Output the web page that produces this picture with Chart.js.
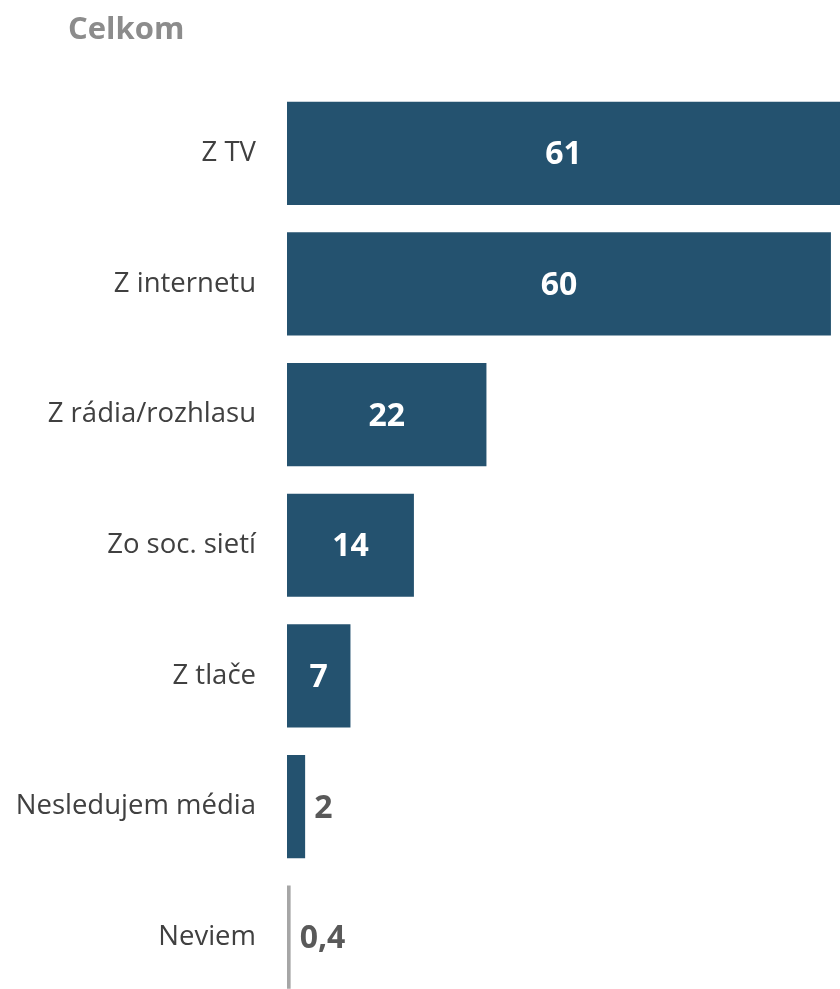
<!DOCTYPE html>
<html>
<head>
<meta charset="utf-8">
<script src="https://cdn.jsdelivr.net/npm/chart.js@4"></script>
<style>
  html, body { margin: 0; padding: 0; background: #fff; overflow: hidden; }
  #wrap { position: relative; width: 840px; height: 1050px; }
  #title {
    position: absolute; left: 68px; top: 6px; z-index: 1;
    font: bold 31px "Open Sans", sans-serif; color: #8c8c8c;
  }
</style>
</head>
<body>
<div id="wrap">
  <div id="title">Celkom</div>
  <canvas id="mediaChart"></canvas>
</div>
<script>
const categories = ["Z TV", "Z internetu", "Z rádia/rozhlasu", "Zo soc. sietí", "Z tlače", "Nesledujem média", "Neviem"];
const values = [61, 60, 22, 14, 7, 2, 0.4];
const barColors = ["#24526f", "#24526f", "#24526f", "#24526f", "#24526f", "#24526f", "#a6a6a6"];

// draws the value next to / inside each bar
const valueLabels = {
  id: 'valueLabels',
  afterDatasetsDraw(chart) {
    const ctx = chart.ctx;
    const meta = chart.getDatasetMeta(0);
    ctx.save();
    ctx.font = 'bold 32px "Open Sans", sans-serif';
    ctx.textBaseline = 'middle';
    meta.data.forEach((bar, i) => {
      const v = values[i];
      const txt = String(v).replace('.', ',');
      if (v >= 5) {
        ctx.fillStyle = '#ffffff';
        ctx.textAlign = 'center';
        const right = Math.min(bar.x, chart.chartArea.right);
        ctx.fillText(txt, (bar.base + right) / 2, bar.y + 2);
      } else {
        ctx.fillStyle = '#595959';
        ctx.textAlign = 'left';
        ctx.fillText(txt, bar.x + 9, bar.y + 2);
      }
    });
    ctx.restore();
  }
};

new Chart(document.getElementById('mediaChart').getContext('2d'), {
  type: 'bar',
  data: {
    labels: categories,
    datasets: [{
      data: values,
      backgroundColor: barColors,
      borderWidth: 0,
      barPercentage: 0.79,
      categoryPercentage: 1
    }]
  },
  options: {
    indexAxis: 'y',
    responsive: true,
    maintainAspectRatio: false,
    animation: false,
    layout: { padding: { top: 88, right: 0, bottom: 5, left: 0 } },
    scales: {
      x: {
        min: 0,
        max: 61,
        display: false
      },
      y: {
        grid: { display: false, drawTicks: false },
        border: { display: false },
        ticks: {
          color: '#404040',
          padding: 31,
          font: { family: '"Open Sans", sans-serif', size: 27.5 }
        },
        afterFit: s => { s.width = 287; }
      }
    },
    plugins: {
      legend: { display: false },
      tooltip: { enabled: false }
    }
  },
  plugins: [valueLabels]
});
</script>
</body>
</html>
